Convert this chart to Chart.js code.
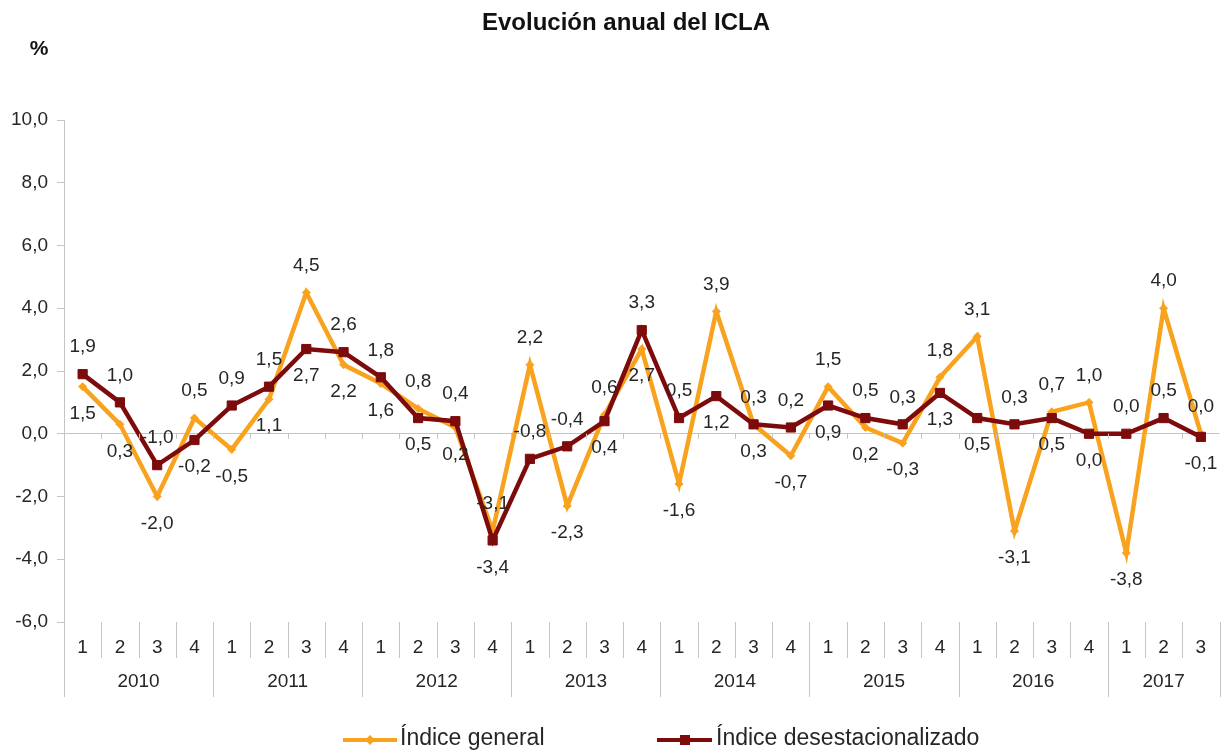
<!DOCTYPE html>
<html>
<head>
<meta charset="utf-8">
<script src="https://cdn.jsdelivr.net/npm/chart.js@4.4.1/dist/chart.umd.min.js"></script>
<style>
  html, body { margin: 0; padding: 0; background: #ffffff; }
  #wrap { width: 1227px; height: 751px; position: relative; }
</style>
</head>
<body>
<div id="wrap"><canvas id="c" width="1227" height="751"></canvas></div>
<script>
// ---- Data ----
const years = ['2010', '2011', '2012', '2013', '2014', '2015', '2016', '2017'];
const quartersPerYear = [4, 4, 4, 4, 4, 4, 4, 3];
const quarters = ['1','2','3','4', '1','2','3','4', '1','2','3','4', '1','2','3','4',
                  '1','2','3','4', '1','2','3','4', '1','2','3','4', '1','2','3'];
const indiceGeneral = [1.5, 0.3, -2.0, 0.5, -0.5, 1.1, 4.5, 2.2, 1.6, 0.8, 0.2, -3.1,
                       2.2, -2.3, 0.6, 2.7, -1.6, 3.9, 0.3, -0.7, 1.5, 0.2, -0.3, 1.8,
                       3.1, -3.1, 0.7, 1.0, -3.8, 4.0, 0.0];
const indiceDesestacionalizado = [1.9, 1.0, -1.0, -0.2, 0.9, 1.5, 2.7, 2.6, 1.8, 0.5, 0.4, -3.4,
                                  -0.8, -0.4, 0.4, 3.3, 0.5, 1.2, 0.3, 0.2, 0.9, 0.5, 0.3, 1.3,
                                  0.5, 0.3, 0.5, 0.0, 0.0, 0.5, -0.1];
const seriesNames = ['Índice general', 'Índice desestacionalizado'];
const chartTitle = 'Evolución anual del ICLA';
const yUnit = '%';
const yMin = -6, yMax = 10, yStep = 2;

// ---- Styles ----
const ORANGE = '#F9A21E';
const MAROON = '#7D0B0B';
const AXIS = '#c4c4c4';
const TEXT = '#262626';
const FONT = '"Liberation Sans", Arial, Helvetica, sans-serif';
const fmt = v => v.toFixed(1).replace('.', ',');

const decor = {
  id: 'decor',
  afterDraw(chart) {
    const { ctx, chartArea: ca, scales: { x, y } } = chart;
    const n = quarters.length;
    const bound = i => i === 0 ? ca.left : (i === n ? ca.right :
      (x.getPixelForValue(i - 1) + x.getPixelForValue(i)) / 2);
    const line = (x1, y1, x2, y2) => { ctx.beginPath(); ctx.moveTo(x1, y1); ctx.lineTo(x2, y2); ctx.stroke(); };
    ctx.save();

    // Title and unit
    ctx.fillStyle = '#111';
    ctx.textAlign = 'center';
    ctx.textBaseline = 'middle';
    ctx.font = 'bold 24px ' + FONT;
    ctx.fillText(chartTitle, 626, 23);
    ctx.font = 'bold 21px ' + FONT;
    ctx.fillText(yUnit, 39, 49);

    // Category separators below plot
    ctx.strokeStyle = AXIS;
    ctx.lineWidth = 1;
    for (let i = 1; i < n; i++) {
      const bx = Math.round(bound(i)) + 0.5;
      line(bx, ca.bottom, bx, 658);
    }
    // zero line small ticks
    const y0 = y.getPixelForValue(0);
    for (let i = 1; i < n; i++) {
      const bx = Math.round(bound(i)) + 0.5;
      line(bx, y0, bx, y0 + 5);
    }
    // Year separators and labels
    ctx.fillStyle = TEXT;
    ctx.font = '19px ' + FONT;
    let start = 0;
    years.forEach((yr, k) => {
      const end = start + quartersPerYear[k];
      const bx = Math.round(bound(start)) + 0.5;
      line(bx, ca.bottom, bx, 697);
      ctx.fillText(yr, (bound(start) + bound(end)) / 2, 682);
      start = end;
    });
    const ex = Math.round(bound(n)) + 0.5;
    line(ex, ca.bottom, ex, 697);

    // Legend
    const legendY = 740;
    ctx.lineWidth = 4;
    ctx.strokeStyle = ORANGE;
    line(343, legendY, 397, legendY);
    ctx.fillStyle = ORANGE;
    ctx.beginPath(); ctx.moveTo(370, legendY - 5); ctx.lineTo(375, legendY); ctx.lineTo(370, legendY + 5); ctx.lineTo(365, legendY); ctx.closePath(); ctx.fill();
    ctx.strokeStyle = MAROON;
    line(657, legendY, 712, legendY);
    ctx.fillStyle = MAROON;
    ctx.fillRect(680, legendY - 5, 10, 10);
    ctx.fillStyle = TEXT;
    ctx.textAlign = 'left';
    ctx.font = '23px ' + FONT;
    ctx.fillText(seriesNames[0], 400, legendY - 1);
    ctx.fillText(seriesNames[1], 716, legendY - 1);

    // Data labels: higher value above its point, lower below
    ctx.textAlign = 'center';
    ctx.font = '19px ' + FONT;
    ctx.fillStyle = TEXT;
    const m0 = chart.getDatasetMeta(0), m1 = chart.getDatasetMeta(1);
    for (let i = 0; i < n; i++) {
      const g = indiceGeneral[i], d = indiceDesestacionalizado[i];
      const pg = m0.data[i], pd = m1.data[i];
      let gAbove, dAbove;
      if (g > d) { gAbove = true; dAbove = (g - d) >= 3; }
      else { gAbove = false; dAbove = true; }
      ctx.fillText(fmt(g), pg.x, pg.y + (gAbove ? -27 : 27));
      ctx.fillText(fmt(d), pd.x, pd.y + (dAbove ? -27 : 27));
    }
    ctx.restore();
  }
};

new Chart(document.getElementById('c'), {
  type: 'line',
  data: {
    labels: quarters,
    datasets: [
      {
        label: seriesNames[0],
        data: indiceGeneral,
        borderColor: ORANGE,
        backgroundColor: ORANGE,
        borderWidth: 4.5,
        pointStyle: 'rectRot',
        pointRadius: 4,
        pointBorderWidth: 1,
        tension: 0,
        order: 1
      },
      {
        label: seriesNames[1],
        data: indiceDesestacionalizado,
        borderColor: MAROON,
        backgroundColor: MAROON,
        borderWidth: 4.5,
        pointStyle: 'rect',
        pointRadius: 6.5,
        pointBorderWidth: 1,
        tension: 0,
        order: 0
      }
    ]
  },
  options: {
    responsive: false,
    animation: false,
    events: [],
    layout: { padding: { top: 120, right: 7, bottom: 0, left: 0 } },
    plugins: { legend: { display: false }, title: { display: false }, tooltip: { enabled: false } },
    scales: {
      x: {
        type: 'category',
        offset: true,
        grid: { display: false },
        border: { display: false },
        ticks: { color: TEXT, font: { family: FONT, size: 19 }, padding: 6, maxRotation: 0, autoSkip: false },
        afterFit(scale) { scale.height = 129; }
      },
      y: {
        min: yMin, max: yMax,
        ticks: { stepSize: yStep, color: TEXT, font: { family: FONT, size: 19 }, padding: 9, callback: v => fmt(v) },
        grid: {
          drawOnChartArea: true,
          color: c => (c.tick && c.tick.value === 0) ? AXIS : 'rgba(0,0,0,0)',
          tickColor: AXIS,
          tickLength: 7,
          lineWidth: 1
        },
        border: { display: true, color: AXIS, width: 1 },
        afterFit(scale) { scale.width = 64; }
      }
    }
  },
  plugins: [decor]
});
</script>
</body>
</html>
